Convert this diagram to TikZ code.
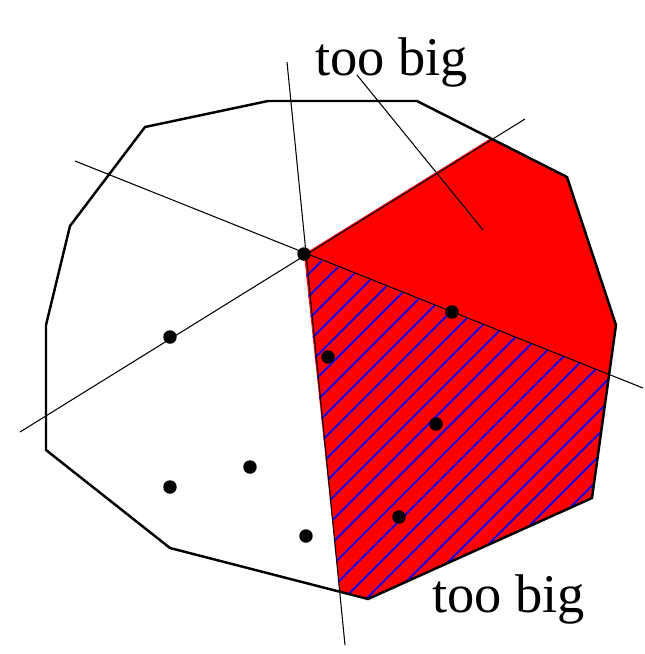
\documentclass[tikz,border=0pt]{standalone}
\usepackage{fontspec}
\setmainfont{Liberation Serif}
\tikzset{
  hull/.style={draw,line width=1.4pt,line join=miter},
  cut/.style={draw,line width=0.6pt},
  hatchline/.style={draw=blue,line width=1pt},
  site/.style={circle,fill=black,inner sep=0pt,minimum size=0.27cm},
  lbl/.style={font=\fontsize{31}{31}\selectfont,inner sep=0pt,anchor=base west},
}

\begin{document}
\begin{tikzpicture}[x=0.02cm,y=-0.02cm]
  \useasboundingbox (0,0) rectangle (645,654);
  % hull corners
  \coordinate (h1) at (145,127);
  \coordinate (h2) at (268,101);
  \coordinate (h3) at (417,101);
  \coordinate (h4) at (567,177);
  \coordinate (h5) at (616,325);
  \coordinate (h6) at (592,498);
  \coordinate (h7) at (368,599);
  \coordinate (h8) at (170,548);
  \coordinate (h9) at (46,450);
  \coordinate (h10) at (46,325);
  \coordinate (h11) at (70,226);
  % where the cuts meet the hull
  \coordinate (c) at (304,254);
  \coordinate (ct) at (490.6,138.3);
  \coordinate (cr) at (609.1,374.5);
  \coordinate (cb) at (339.7,592);

  \fill[red] (c) -- (ct) -- (h4) -- (h5) -- (h6) -- (h7) -- (cb) -- cycle;
  \begin{scope}
    \clip (c) -- (cr) -- (h6) -- (h7) -- (cb) -- cycle;
    \foreach \k in {0,...,24}
      \draw[hatchline] ({\k*22.5-90},650) -- ++(450,-450);
  \end{scope}

  % cut lines
  \coordinate (a1) at (75,161);   \coordinate (a2) at (643,388);
  \coordinate (b1) at (287,62);   \coordinate (b2) at (345,645);
  \coordinate (d1) at (20,432);   \coordinate (d2) at (525,119);
  \draw[cut] (a1) -- (a2);
  \draw[cut] (b1) -- (b2);
  \draw[cut] (d1) -- (d2);

  \draw[hull] (h1) -- (h2) -- (h3) -- (h4) -- (h5) -- (h6) -- (h7) -- (h8)
    -- (h9) -- (h10) -- (h11) -- cycle;

  \node[site] (s0) at (c) {};
  \node[site] (s1) at (452,312) {};
  \node[site] (s2) at (328,357) {};
  \node[site] (s3) at (436,424) {};
  \node[site] (s4) at (399,517) {};
  \node[site] (s5) at (306,536) {};
  \node[site] (s6) at (250,467) {};
  \node[site] (s7) at (170,487) {};
  \node[site] (s8) at (170,337) {};

  \node[lbl] (big1) at (315,75) {too big};
  \node[lbl] (big2) at (432,612) {too big};
  \coordinate (lead) at (357,75);
  \coordinate (tip) at (483,230);
  \draw[cut] (lead) -- (tip);
\end{tikzpicture}
\end{document}
